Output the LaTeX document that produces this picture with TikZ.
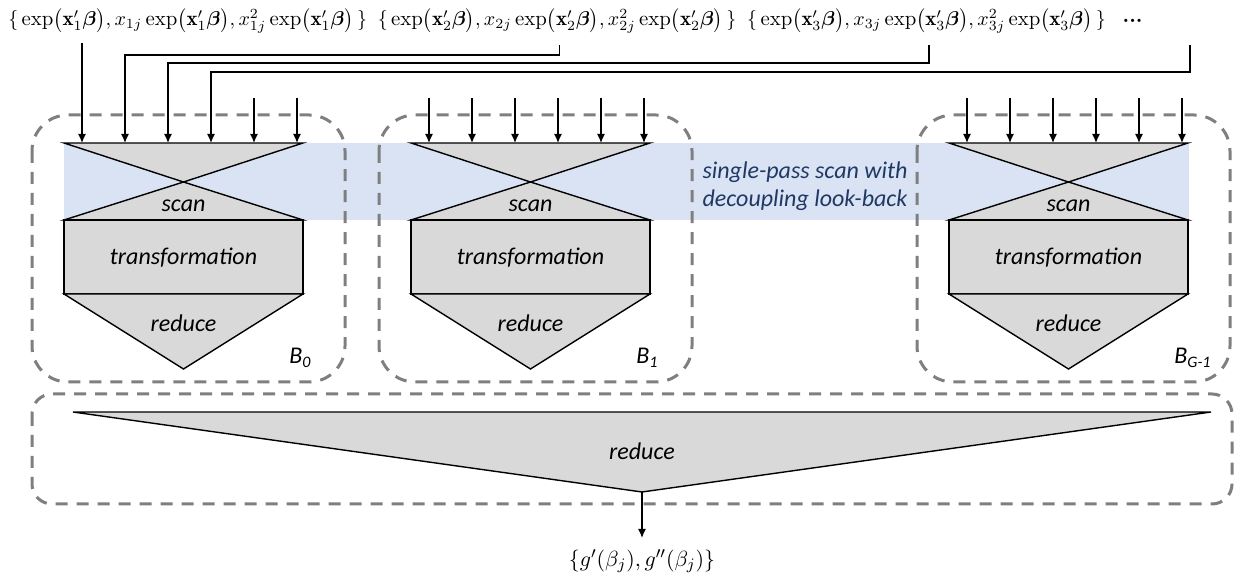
\documentclass[tikz,border=0pt]{standalone}
\usepackage{amsmath}
\usepackage{fontspec}
\setsansfont{Carlito}
\usetikzlibrary{math,calc,positioning,arrows.meta}

\definecolor{partgray}{HTML}{D9D9D9}
\definecolor{bandblue}{HTML}{DAE3F3}
\definecolor{dashgray}{HTML}{7F7F7F}
\definecolor{bandtext}{HTML}{1F3864}

\begin{document}
\begin{tikzpicture}[x=0.5pt,y=-0.5pt]
\tikzmath{\shapeW=239; \shapeM=\shapeW/2;}
\tikzset{
  feed/.style={-{Latex[length=4.5pt,width=4pt]}, line width=0.7pt},
  stage/.style={draw, fill=partgray, line width=0.7pt},
  blk/.style={draw=dashgray, line width=1.5pt, dash pattern=on 6pt off 4.5pt, rounded corners=18pt},
  op/.style={font=\sffamily\itshape\fontsize{12}{14}\selectfont, inner sep=0},
  src/.style={inner sep=0, font=\fontsize{10.4}{13}\selectfont},
}
\useasboundingbox (0,0) rectangle (1244,582);
% Inputs
\node[src, anchor=west] (grp1) at (8,21)
  {$\{\,\exp\bigl(\mathbf{x}'_1\boldsymbol{\beta}\bigr), x_{1j}\exp\bigl(\mathbf{x}'_1\boldsymbol{\beta}\bigr), x^2_{1j}\exp\bigl(\mathbf{x}'_1\boldsymbol{\beta}\bigr)\,\}$};
\node[src, right=5pt of grp1] (grp2)
  {$\{\,\exp\bigl(\mathbf{x}'_2\boldsymbol{\beta}\bigr), x_{2j}\exp\bigl(\mathbf{x}'_2\boldsymbol{\beta}\bigr), x^2_{2j}\exp\bigl(\mathbf{x}'_2\boldsymbol{\beta}\bigr)\,\}$};
\node[src, right=5pt of grp2] (grp3)
  {$\{\,\exp\bigl(\mathbf{x}'_3\boldsymbol{\beta}\bigr), x_{3j}\exp\bigl(\mathbf{x}'_3\boldsymbol{\beta}\bigr), x^2_{3j}\exp\bigl(\mathbf{x}'_3\boldsymbol{\beta}\bigr)\,\}$};
\node[src, right=8pt of grp3] (dots) {\textbf{...}};
% Scan band
\fill[bandblue] (64,143) rectangle (1189,220);
\node[op, text=bandtext, align=center] (look) at (805,186) {single-pass scan with\\decoupling look-back};
% Blocks
\foreach \x/\i/\s in {64/0/0,411/1/1,949/2/G-1} {
  \draw[blk] (\x-32,115) rectangle (\x+281,382);
  \filldraw[stage] (\x,143) -- (\x+\shapeW,143) -- (\x+\shapeM,182) -- cycle;
  \filldraw[stage] (\x+\shapeM,182) -- (\x+\shapeW,220) -- (\x,220) -- cycle;
  \filldraw[stage] (\x,220) rectangle (\x+\shapeW,294);
  \filldraw[stage] (\x,294) -- (\x+\shapeW,294) -- (\x+\shapeM,369) -- cycle;
  \node[op] (scan\i) at (\x+\shapeM,206) {scan};
  \node[op] (trans\i) at (\x+\shapeM,258) {transformation};
  \node[op] (red\i) at (\x+\shapeM,323) {reduce};
  \node[op, anchor=west] (lab\i) at (\x+225,358) {B\textsubscript{\s}};
  \foreach \k in {0,...,5}
    \coordinate (in\i-\k) at (\x+18+43*\k,143);
  \pgfmathtruncatemacro\first{\i==0 ? 4 : 0}
  \foreach \k in {\first,...,5}
    \draw[feed] ($(in\i-\k)+(0,-45)$) -- (in\i-\k);
}
% Wires
\coordinate (src0) at (82,43);
\coordinate (src1) at ($(grp2.west)+(182,24)$);
\coordinate (src2) at ($(grp3.west)+(182,24)$);
\coordinate (src3) at (1190,45);
\draw[feed] (src0) -- (in0-0);
\foreach \k/\y in {1/55,2/63,3/72}
  \draw[feed] (src\k) -- ++(0,\y-45) -| (in0-\k);
% Final reduce
\draw[blk, rounded corners=10pt] (32,394) rectangle (1232,504);
\filldraw[stage] (73,412) -- (1211,412) -- (642,492) -- cycle;
\coordinate (tip) at (642,492);
\node[op] (redall) at (642,451) {reduce};
\node[anchor=north, inner xsep=0, inner ysep=5.5pt, font=\fontsize{11}{13}\selectfont] (res) at (642,538) {$\{g'(\beta_j), g''(\beta_j)\}$};
\draw[feed] (tip) -- (res);
\end{tikzpicture}
\end{document}
